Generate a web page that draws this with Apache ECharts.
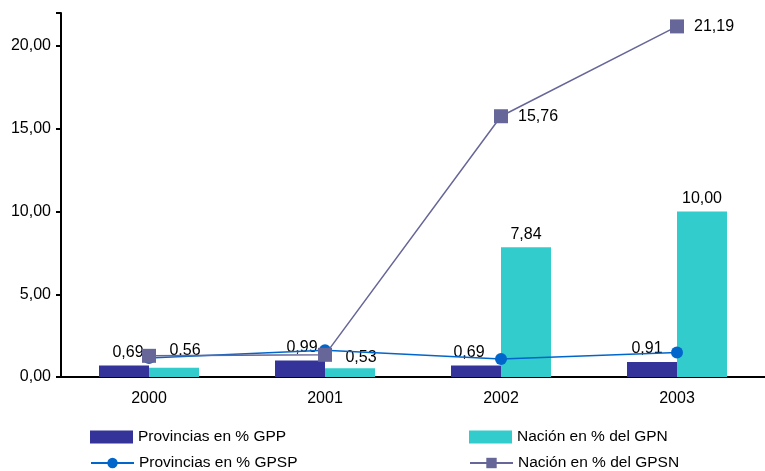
<!DOCTYPE html>
<html><head><meta charset="utf-8">
<script src="https://cdn.jsdelivr.net/npm/echarts@6/dist/echarts.min.js"></script>
<style>html,body{margin:0;padding:0;background:#fff}#c{width:765px;height:471px}</style>
</head><body><div id="c"></div>
<script>
var categories = ['2000', '2001', '2002', '2003'];
var provGPP = [0.69, 0.99, 0.69, 0.91];
var nacGPN = [0.56, 0.53, 7.84, 10.00];
var provGPSP = [1.15, 1.62, 1.09, 1.48];
var nacGPSN = [1.28, 1.34, 15.76, 21.19];
var names = ['Provincias en % GPP', 'Nación en % del GPN', 'Provincias en % GPSP', 'Nación en % del GPSN'];

function fmt(v) { return Number(v).toFixed(2).replace('.', ','); }
var font = 'Liberation Sans, Arial, sans-serif';
var labelFont = 16;

// label placement tweaks (style only)
var provOffsets = [[4, 0], [2, 0], [-7, 0], [-5, 0]];
var nacOffsets = [[11, -4], [11, 2], [0, 0], [0, 0]];
function withOffsets(values, offs) {
  return values.map(function (v, i) { return {value: v, label: {offset: offs[i]}}; });
}

var chart = echarts.init(document.getElementById('c'));
var legendBase = {orient: 'horizontal', textStyle: {fontFamily: font, fontSize: 15.5, color: '#000'}, itemWidth: 43, itemHeight: 13, padding: 0};
chart.setOption({
  animation: false,
  textStyle: {fontFamily: font},
  grid: {left: 61, right: 0, top: 13, bottom: 94},
  legend: [
    Object.assign({}, legendBase, {data: [{name: names[0], icon: 'rect'}], left: 90, top: 429}),
    Object.assign({}, legendBase, {data: [{name: names[1], icon: 'rect'}], left: 469, top: 429}),
    Object.assign({}, legendBase, {data: [names[2]], left: 90, top: 455}),
    Object.assign({}, legendBase, {data: [names[3]], left: 469, top: 455})
  ],
  xAxis: {
    type: 'category', data: categories,
    axisLine: {lineStyle: {color: '#000', width: 2}},
    axisTick: {length: 5, lineStyle: {color: '#000', width: 2}},
    axisLabel: {color: '#000', fontSize: labelFont, margin: 14, fontFamily: font}
  },
  yAxis: {
    type: 'value', min: 0, max: 22, interval: 5,
    splitLine: {show: false},
    axisLine: {show: true, lineStyle: {color: '#000', width: 2}},
    axisTick: {show: true, length: 5, lineStyle: {color: '#000', width: 2}},
    axisLabel: {color: '#000', fontSize: labelFont, margin: 10, fontFamily: font,
      formatter: function (v) { return v % 5 === 0 ? fmt(v) : ''; }}
  },
  series: [
    {name: names[0], type: 'bar', data: withOffsets(provGPP, provOffsets), barWidth: 50, barGap: '0%',
     itemStyle: {color: '#333399'},
     label: {show: true, position: 'top', distance: 5, formatter: function (p) { return fmt(p.value); }, color: '#000', fontSize: labelFont, fontFamily: font}},
    {name: names[1], type: 'bar', data: withOffsets(nacGPN, nacOffsets), barWidth: 50,
     itemStyle: {color: '#33CCCC'},
     label: {show: true, position: 'top', distance: 5, formatter: function (p) { return fmt(p.value); }, color: '#000', fontSize: labelFont, fontFamily: font}},
    {name: names[2], type: 'line', data: provGPSP, symbol: 'circle', symbolSize: 12, z: 3,
     lineStyle: {color: '#0066CC', width: 1.5}, itemStyle: {color: '#0066CC'}},
    {name: names[3], type: 'line', data: nacGPSN, symbol: 'rect', symbolSize: 14, z: 4,
     lineStyle: {color: '#666699', width: 1.5}, itemStyle: {color: '#666699'},
     label: {show: true, position: 'right', distance: 10, color: '#000', fontSize: labelFont, fontFamily: font,
       formatter: function (p) { return p.dataIndex >= 2 ? fmt(p.value) : ''; }}}
  ]
});
</script></body></html>
